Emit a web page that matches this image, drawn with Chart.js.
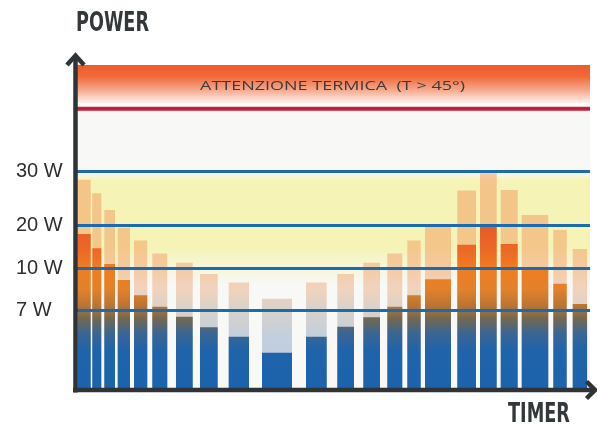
<!DOCTYPE html>
<html>
<head>
<meta charset="utf-8">
<script src="https://cdn.jsdelivr.net/npm/chart.js@4/dist/chart.umd.min.js"></script>
<style>
  html, body { margin: 0; padding: 0; background: #ffffff; }
  #wrap { width: 597px; height: 427px; position: relative; }
</style>
</head>
<body>
<div id="wrap"><canvas id="chart"></canvas></div>
<script>
// ---------------- DATA ----------------
const Y_TICKS_W = [7, 10, 20, 30];
const Y_TICK_LABELS = ['7 W', '10 W', '20 W', '30 W'];
// timer intervals of each bar (timer units)
const BAR_START = [2.3, 17.3, 29.3, 42.7, 59.0, 77.3, 101.0, 125.0, 153.7, 187.0, 231.0,
                   262.3, 288.3, 312.3, 332.3, 350.0, 382.3, 405.0, 425.7, 446.7, 478.3, 497.7];
const BAR_END   = [15.7, 26.3, 40.0, 55.0, 72.3, 92.3, 117.7, 142.7, 174.0, 217.0, 251.7,
                   279.0, 305.0, 327.3, 345.7, 376.0, 401.0, 421.7, 442.7, 473.3, 491.7, 512.3];
// peak power (light bars), W
const PEAK_W = [28.5, 26.0, 22.9, 19.5, 16.5, 13.5, 11.3, 9.6, 9.0, 7.85, 9.0,
                9.6, 11.3, 13.5, 16.5, 19.8, 26.5, 29.7, 26.6, 22.0, 19.0, 14.5];
// average power (dark bars), W
const AVG_W  = [18.05, 14.7, 11.0, 9.17, 8.1, 7.28, 6.46, 5.50, 4.65, 3.20, 4.65,
                5.55, 6.40, 7.28, 8.1, 9.22, 15.5, 19.8, 15.7, 9.93, 8.9, 7.47];
const Y_TITLE = 'POWER';
const X_TITLE = 'TIMER';
const ALERT_LABEL = 'ATTENZIONE TERMICA  (T > 45°)';
const ALERT_LINE_W = 41.8;      // thermal alert threshold line
const ALERT_BAND_W = 42.9;      // lower edge of the thermal band
const COMFORT_BAND_W = [30, 8.8];

// ------------- non-linear power axis layout -------------
const AXIS_W = [0, 7, 10, 20, 30, 50];
const AXIS_F = [0, 0.2393, 0.3706, 0.5025, 0.6697, 1];
function wToF(w) {
  for (let i = 1; i < AXIS_W.length; i++) {
    if (w <= AXIS_W[i] || i === AXIS_W.length - 1) {
      const t = (w - AXIS_W[i - 1]) / (AXIS_W[i] - AXIS_W[i - 1]);
      return AXIS_F[i - 1] + t * (AXIS_F[i] - AXIS_F[i - 1]);
    }
  }
}
function fToW(f) {
  for (let i = 1; i < AXIS_F.length; i++) {
    if (f <= AXIS_F[i] || i === AXIS_F.length - 1) {
      const t = (f - AXIS_F[i - 1]) / (AXIS_F[i] - AXIS_F[i - 1]);
      return AXIS_W[i - 1] + t * (AXIS_W[i] - AXIS_W[i - 1]);
    }
  }
}
class PowerScale extends Chart.LinearScale {
  getPixelForValue(v) { return this.getPixelForDecimal(wToF(v)); }
  getValueForPixel(p) { return fToW(this.getDecimalForPixel(p)); }
}
PowerScale.id = 'power';
PowerScale.defaults = {};
Chart.register(PowerScale);

function skyline(values) {
  const pts = [];
  values.forEach((v, i) => {
    pts.push({x: BAR_START[i], y: 0}, {x: BAR_START[i], y: v}, {x: BAR_END[i], y: v}, {x: BAR_END[i], y: 0});
  });
  return pts;
}

const DARK_STOPS = [[0, '#1c63ad'], [3.4, '#1f64aa'], [5.0, '#3d6591'], [6.3, '#74684f'], [7.3, '#b87434'],
                    [8.5, '#e3812a'], [10, '#f07d22'], [14, '#ec6a25'], [20, '#e85a28'], [30, '#e64c35'], [50, '#e64c35']];
const LIGHT_STOPS = [[0, 'rgba(35,95,165,0.27)'], [4.5, 'rgba(45,96,160,0.27)'], [7, 'rgba(130,105,80,0.27)'],
                     [8.5, 'rgba(225,125,55,0.30)'], [10, 'rgba(240,110,45,0.32)'], [20, 'rgba(240,105,45,0.33)'],
                     [29, 'rgba(240,105,45,0.33)'], [31, 'rgba(230,76,53,0.36)'], [50, 'rgba(230,76,53,0.36)']];

function barGradient(chart, stops) {
  const y = chart.scales.y, a = chart.chartArea;
  if (!a || !y) return stops[0][1];
  const g = chart.ctx.createLinearGradient(0, a.bottom, 0, a.top);
  const span = a.bottom - a.top;
  stops.forEach(([w, c]) => {
    g.addColorStop(Math.min(1, Math.max(0, (a.bottom - y.getPixelForValue(w)) / span)), c);
  });
  return g;
}

function fitText(ctx, text, x, baseline, width, font, color) {
  ctx.save();
  ctx.font = font;
  ctx.fillStyle = color;
  ctx.textAlign = 'left';
  ctx.textBaseline = 'alphabetic';
  const w = ctx.measureText(text).width;
  ctx.translate(x, baseline);
  ctx.scale(width / w, 1);
  ctx.fillText(text, 0, 0);
  ctx.restore();
}

const decor = {
  id: 'decor',
  beforeDatasetsDraw(chart) {
    const {ctx, chartArea: a, scales: {y}} = chart;
    const w = a.right - a.left;
    ctx.save();
    ctx.fillStyle = '#f8f8f7';
    ctx.fillRect(a.left, a.top, w, a.bottom - a.top);
    // comfort (yellow) band
    const yT = y.getPixelForValue(COMFORT_BAND_W[0]), yB = y.getPixelForValue(COMFORT_BAND_W[1]);
    const g = ctx.createLinearGradient(0, yT, 0, yB);
    g.addColorStop(0, 'rgba(245,243,182,0)');
    g.addColorStop(0.08, 'rgba(245,243,182,1)');
    g.addColorStop(0.66, 'rgba(245,243,182,1)');
    g.addColorStop(1, 'rgba(245,243,182,0)');
    ctx.fillStyle = g;
    ctx.fillRect(a.left, yT, w, yB - yT);
    // white zone above thermal line
    const yAlert = y.getPixelForValue(ALERT_LINE_W);
    ctx.fillStyle = '#ffffff';
    ctx.fillRect(a.left, a.top, w, yAlert - a.top);
    // thermal (orange) band
    const yOB = y.getPixelForValue(ALERT_BAND_W);
    const og = ctx.createLinearGradient(0, a.top, 0, yOB);
    og.addColorStop(0, '#ee5a2b');
    og.addColorStop(0.3, '#f06a3a');
    og.addColorStop(0.65, '#f5a68a');
    og.addColorStop(1, '#fdf1ec');
    ctx.fillStyle = og;
    ctx.fillRect(a.left, a.top, w, yOB - a.top);
    // thermal threshold line
    ctx.strokeStyle = '#c41f3b';
    ctx.lineWidth = 4;
    ctx.beginPath();
    ctx.moveTo(a.left, yAlert);
    ctx.lineTo(a.right, yAlert);
    ctx.stroke();
    ctx.restore();
    fitText(ctx, ALERT_LABEL, 200, 89.5, 265, '400 13.5px "Open Sans", Lato, "DejaVu Sans", sans-serif', '#3e3a3a');
  },
  afterDraw(chart) {
    const {ctx, chartArea: a} = chart;
    ctx.save();
    ctx.strokeStyle = '#2f3335';
    ctx.lineWidth = 4.5;
    ctx.lineCap = 'butt';
    ctx.lineJoin = 'miter';
    // y axis
    ctx.beginPath();
    ctx.moveTo(a.left + 0.5, a.bottom + 4.5);
    ctx.lineTo(a.left + 0.5, 56);
    ctx.stroke();
    ctx.beginPath();
    ctx.moveTo(a.left - 8, 65);
    ctx.lineTo(a.left + 0.5, 55.5);
    ctx.lineTo(a.left + 9, 65);
    ctx.stroke();
    // x axis
    ctx.beginPath();
    ctx.moveTo(a.left - 2, a.bottom + 2);
    ctx.lineTo(594, a.bottom + 2);
    ctx.stroke();
    ctx.beginPath();
    ctx.moveTo(586.5, a.bottom - 6.5);
    ctx.lineTo(595, a.bottom + 2);
    ctx.lineTo(586.5, a.bottom + 10.5);
    ctx.stroke();
    ctx.restore();
    const titleFont = 'bold 26px "Liberation Sans Narrow", "DejaVu Sans Condensed", "Liberation Sans", sans-serif';
    fitText(ctx, Y_TITLE, 76, 31, 73, titleFont, '#33383a');
    fitText(ctx, X_TITLE, 508, 422, 62, titleFont, '#33383a');
  }
};

new Chart(document.getElementById('chart'), {
  type: 'line',
  data: {
    datasets: [
      {
        label: 'Average power',
        data: skyline(AVG_W),
        fill: 'origin',
        backgroundColor: (c) => barGradient(c.chart, DARK_STOPS),
        borderColor: 'rgba(0,0,0,0)',
        borderWidth: 0,
        pointRadius: 0,
        tension: 0
      },
      {
        label: 'Peak power',
        data: skyline(PEAK_W),
        fill: 'origin',
        backgroundColor: (c) => barGradient(c.chart, LIGHT_STOPS),
        borderColor: 'rgba(0,0,0,0)',
        borderWidth: 0,
        pointRadius: 0,
        tension: 0
      }
    ]
  },
  options: {
    responsive: true,
    maintainAspectRatio: false,
    animation: false,
    events: [],
    layout: { padding: { left: 16, top: 65, right: 7, bottom: 39 } },
    plugins: { legend: { display: false }, tooltip: { enabled: false }, title: { display: false } },
    scales: {
      x: { type: 'linear', min: 0, max: 515, display: false },
      y: {
        type: 'power',
        position: 'left',
        min: 0,
        max: 50,
        afterBuildTicks: (s) => { s.ticks = Y_TICKS_W.map(v => ({value: v})); },
        afterFit: (s) => { s.width = 59; },
        grid: { color: '#1b6bb3', lineWidth: 3, drawTicks: false, z: 1 },
        border: { display: false },
        ticks: {
          autoSkip: false,
          crossAlign: 'far',
          padding: 0,
          color: '#2e2e2e',
          font: { family: '"Liberation Sans", Arial, sans-serif', size: 20 },
          callback: (v) => { const i = Y_TICKS_W.indexOf(v); return i >= 0 ? Y_TICK_LABELS[i] : ''; }
        }
      }
    }
  },
  plugins: [decor]
});
</script>
</body>
</html>
